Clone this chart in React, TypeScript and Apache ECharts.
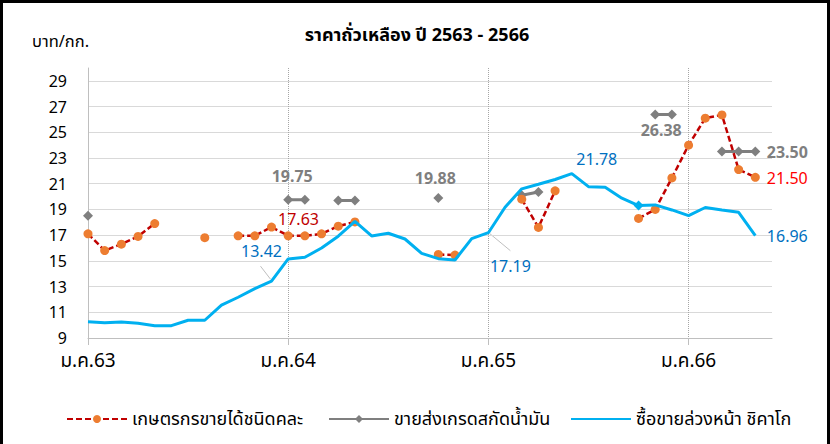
import React, { useEffect, useRef } from 'react';
import * as echarts from 'echarts';

const categories = [
  'ม.ค.63','ก.พ.63','มี.ค.63','เม.ย.63','พ.ค.63','มิ.ย.63','ก.ค.63','ส.ค.63','ก.ย.63','ต.ค.63','พ.ย.63','ธ.ค.63',
  'ม.ค.64','ก.พ.64','มี.ค.64','เม.ย.64','พ.ค.64','มิ.ย.64','ก.ค.64','ส.ค.64','ก.ย.64','ต.ค.64','พ.ย.64','ธ.ค.64',
  'ม.ค.65','ก.พ.65','มี.ค.65','เม.ย.65','พ.ค.65','มิ.ย.65','ก.ค.65','ส.ค.65','ก.ย.65','ต.ค.65','พ.ย.65','ธ.ค.65',
  'ม.ค.66','ก.พ.66','มี.ค.66','เม.ย.66','พ.ค.66','มิ.ย.66',
];

const farmerPrice: (number | null)[] = [
  17.1, 15.8, 16.3, 16.9, 17.9, null, null, 16.8, null, 16.95, 16.95, 17.63,
  16.95, 16.95, 17.1, 17.7, 18.03, null, null, null, null, 15.5, 15.45, null,
  null, null, 19.8, 17.6, 20.45, null, null, null, null, 18.3, 19.0, 21.45,
  24.0, 26.1, 26.35, 22.1, 21.5, null,
];

const wholesalePrice: (number | null)[] = [
  18.5, null, null, null, null, null, null, null, null, null, null, null,
  19.75, 19.75, null, 19.7, 19.7, null, null, null, null, 19.88, null, null,
  null, null, 20.1, 20.35, null, null, null, null, null, null, 26.38, 26.38,
  null, null, 23.5, 23.5, 23.5, null,
];

const chicagoPrice: (number | null)[] = [
  10.27, 10.19, 10.25, 10.14, 9.96, 9.96, 10.38, 10.38, 11.55, 12.17, 12.84, 13.42,
  15.15, 15.28, 16.0, 16.92, 18.07, 16.94, 17.15, 16.7, 15.58, 15.17, 15.07, 16.73,
  17.19, 19.17, 20.6, 20.96, 21.33, 21.78, 20.77, 20.72, 19.87, 19.3, 19.35, 18.96,
  18.52, 19.15, 18.96, 18.78, 16.96, null,
];

// index of the single diamond marker drawn on the Chicago line
const chicagoMarkerIndex = 33;

const seriesNames = ['เกษตรกรขายได้ชนิดคละ', 'ขายส่งเกรดสกัดน้ำมัน', 'ซื้อขายล่วงหน้า ชิคาโก'];
const yTicks = { min: 9, max: 30, interval: 2 };

const FONT = "Tahoma, 'Noto Sans Thai', 'Leelawadee UI', 'Noto Sans', 'DejaVu Sans', sans-serif";
const NUMFONT = "'Noto Sans', 'Liberation Sans', sans-serif";

// label offsets and colours (style only): dataIndex -> [dx, dy]
const farmerLabels: Record<number, [number, number]> = { 11: [27, -8], 40: [32, 1] };
const farmerLabelColors: Record<number, string> = { 11: '#c00000', 40: '#ff0000' };
const wholesaleLabels: Record<number, [number, number]> = { 12: [4, -24], 21: [-3, -20], 34: [6, 15], 40: [32, 0] };
const chicagoLabels: Record<number, [number, number]> = { 11: [-10, -30], 24: [22, 33], 29: [25, -15], 40: [32, 0] };

function withLabels(
  values: (number | null)[],
  labels: Record<number, [number, number]>,
  color: string | Record<number, string>,
  bold: boolean
) {
  return values.map((v, i) => {
    if (v == null || !labels[i]) return v;
    return {
      value: v,
      label: {
        show: true,
        position: 'inside',
        offset: labels[i],
        align: 'center',
        verticalAlign: 'middle',
        formatter: (p: any) => Number(p.value).toFixed(2),
        color: typeof color === 'string' ? color : color[i],
        fontSize: 16,
        fontWeight: bold ? 'bold' : 'normal',
        fontFamily: NUMFONT,
      },
    };
  });
}

export default function App() {
  const ref = useRef<HTMLDivElement>(null);
  useEffect(() => {
    document.body.style.margin = '0';
    const chart = echarts.init(ref.current!, null, { renderer: 'svg' });
    const legendBase = {
      top: 410,
      padding: 0,
      itemWidth: 60,
      itemHeight: 10,
      textStyle: { fontFamily: FONT, fontSize: 18, color: '#000' },
    };
    const chicagoData = withLabels(chicagoPrice, chicagoLabels, '#0070c0', false).map((d, i) =>
      i === chicagoMarkerIndex
        ? { value: d as number, symbol: 'diamond', symbolSize: 10, itemStyle: { color: '#00B0F0' } }
        : d
    );
    chart.setOption({
      animation: false,
      backgroundColor: '#fff',
      grid: { left: 88, right: 58, top: 68, bottom: 106 },
      legend: [
        { ...legendBase, left: 66, data: [seriesNames[0]] },
        { ...legendBase, left: 328, data: [seriesNames[1]] },
        { ...legendBase, left: 570, data: [seriesNames[2]] },
      ],
      xAxis: {
        type: 'category',
        data: categories,
        boundaryGap: false,
        axisLine: { lineStyle: { color: '#bfbfbf', width: 1 } },
        axisTick: { show: true, interval: 11, length: 7, lineStyle: { color: '#bfbfbf' } },
        axisLabel: { interval: 11, margin: 14, fontFamily: FONT, fontSize: 19, color: '#000' },
        splitLine: {
          show: true,
          interval: (i: number) => i > 0 && i % 12 === 0,
          lineStyle: { type: 'dotted', color: '#a6a6a6', width: 1 },
        },
      },
      yAxis: {
        type: 'value',
        min: yTicks.min,
        max: yTicks.max,
        interval: yTicks.interval,
        axisLine: { show: true, lineStyle: { color: '#bfbfbf' } },
        axisTick: { show: false },
        axisLabel: { showMaxLabel: false, margin: 21, fontFamily: NUMFONT, fontSize: 16, color: '#000' },
        splitLine: { show: true, showMaxLine: false, showMinLine: false, lineStyle: { color: '#d9d9d9', width: 1 } },
      },
      series: [
        {
          name: seriesNames[0],
          type: 'line',
          data: withLabels(farmerPrice, farmerLabels, farmerLabelColors, false),
          connectNulls: false,
          symbol: 'circle',
          symbolSize: 9,
          itemStyle: { color: '#ED7D31' },
          lineStyle: { color: '#C00000', width: 2.5, type: [6, 3] },
          z: 3,
        },
        {
          name: seriesNames[1],
          type: 'line',
          data: withLabels(wholesalePrice, wholesaleLabels, '#7f7f7f', true),
          connectNulls: false,
          symbol: 'diamond',
          symbolSize: 10,
          itemStyle: { color: '#7F7F7F' },
          lineStyle: { color: '#7F7F7F', width: 3 },
          z: 2,
        },
        {
          name: seriesNames[2],
          type: 'line',
          data: chicagoData,
          showSymbol: true,
          symbol: 'circle',
          symbolSize: 1,
          itemStyle: { color: 'rgba(0,0,0,0)' },
          lineStyle: { color: '#00B0F0', width: 3 },
          z: 4,
        },
      ],
      graphic: [
        {
          id: 'border', type: 'rect', silent: true,
          shape: { x: 1.5, y: 1.5, width: 827, height: 470 },
          style: { fill: 'none', stroke: '#000', lineWidth: 3 },
        },
        {
          id: 'title', type: 'text', x: 417, y: 35,
          style: { text: 'ราคาถั่วเหลือง ปี 2563 - 2566', align: 'center', verticalAlign: 'middle', textAlign: 'center', textVerticalAlign: 'middle', fontSize: 18, fontWeight: 'bold', fontFamily: FONT, fill: '#000' },
        },
        {
          id: 'unit', type: 'text', x: 32, y: 41,
          style: { text: 'บาท/กก.', align: 'left', verticalAlign: 'middle', textAlign: 'left', textVerticalAlign: 'middle', fontSize: 16.5, fontFamily: FONT, fill: '#000' },
        },
      ],
    });
    const p11 = chart.convertToPixel({ gridIndex: 0 }, [11, chicagoPrice[11] as number]) as number[];
    const p24 = chart.convertToPixel({ gridIndex: 0 }, [24, chicagoPrice[24] as number]) as number[];
    chart.setOption({
      graphic: [
        {
          id: 'lead11', type: 'line', silent: true,
          shape: { x1: p11[0] - 11, y1: p11[1] - 15, x2: p11[0] - 1, y2: p11[1] - 2 },
          style: { stroke: '#bfbfbf', lineWidth: 1 },
        },
        {
          id: 'lead24', type: 'line', silent: true,
          shape: { x1: p24[0] + 1.5, y1: p24[1] + 1, x2: p24[0] + 22, y2: p24[1] + 18 },
          style: { stroke: '#bfbfbf', lineWidth: 1 },
        },
      ],
    });
    return () => chart.dispose();
  }, []);
  return <div ref={ref} style={{ width: 830, height: 444 }} />;
}
